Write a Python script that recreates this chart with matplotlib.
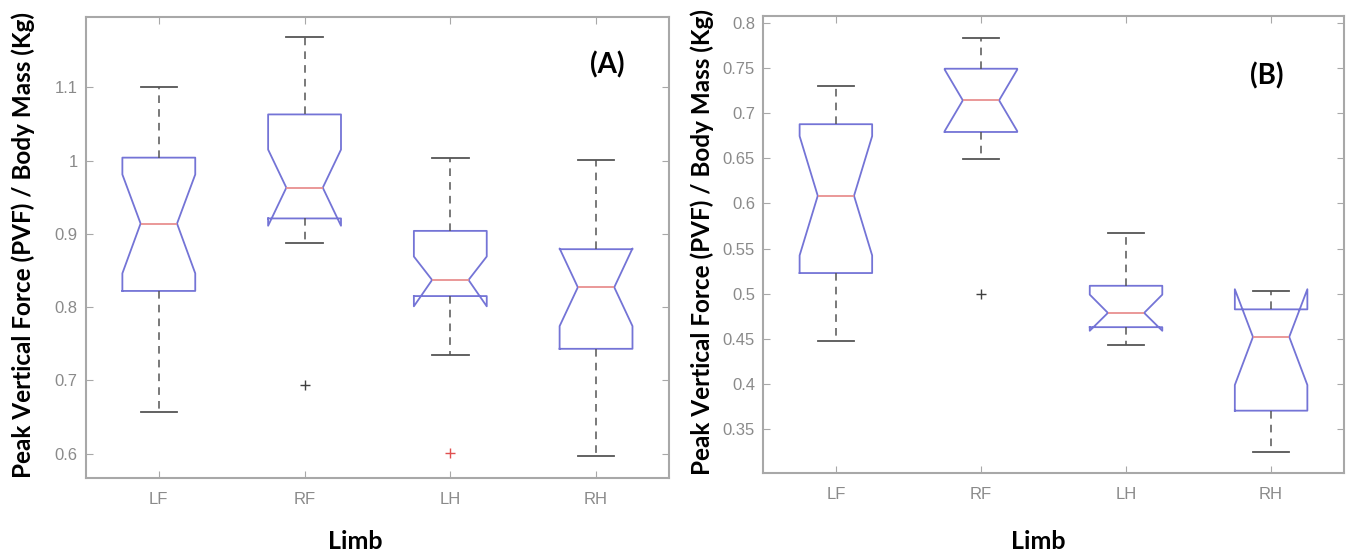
import matplotlib
matplotlib.use('Agg')
import matplotlib.pyplot as plt

# Limb categories
limbs = ['LF', 'RF', 'LH', 'RH']

# Panel (A) box statistics
a_whislo = [0.657, 0.888, 0.734, 0.597]
a_q1 = [0.822, 0.921, 0.815, 0.743]
a_med = [0.914, 0.963, 0.837, 0.827]
a_q3 = [1.004, 1.063, 0.904, 0.879]
a_whishi = [1.100, 1.169, 1.004, 1.001]
a_cilo = [0.846, 0.911, 0.801, 0.774]
a_cihi = [0.981, 1.015, 0.869, 0.880]
a_fliers = [[], [0.694], [0.601], []]

# Panel (B) box statistics
b_whislo = [0.4476, 0.649, 0.4436, 0.3246]
b_q1 = [0.5229, 0.679, 0.4630, 0.3706]
b_med = [0.6084, 0.714, 0.4788, 0.4522]
b_q3 = [0.6876, 0.749, 0.5088, 0.4827]
b_whishi = [0.7297, 0.783, 0.5674, 0.503]
b_cilo = [0.5424, 0.680, 0.4590, 0.399]
b_cihi = [0.6744, 0.748, 0.4990, 0.505]
b_fliers = [[], [0.500], [], []]

a_yticks = [0.6, 0.7, 0.8, 0.9, 1.0, 1.1]
a_yticklabels = ['0.6', '0.7', '0.8', '0.9', '1', '1.1']
b_yticks = [0.35, 0.4, 0.45, 0.5, 0.55, 0.6, 0.65, 0.7, 0.75, 0.8]
b_yticklabels = ['0.35', '0.4', '0.45', '0.5', '0.55', '0.6', '0.65', '0.7', '0.75', '0.8']

BOX_COLOR = '#7474d6'
MED_COLOR = '#e89090'
WHISK_COLOR = '#555555'
AXIS_COLOR = '#a8a8a8'
TICK_TEXT = '#8a8a8a'
LABEL_FONT = ['Lato', 'DejaVu Sans']
TICK_FONT = ['Liberation Sans', 'DejaVu Sans']


def make_stats(whislo, q1, med, q3, whishi, cilo, cihi, fliers):
    stats = []
    for i in range(len(med)):
        stats.append({
            'whislo': whislo[i], 'q1': q1[i], 'med': med[i], 'q3': q3[i],
            'whishi': whishi[i], 'cilo': cilo[i], 'cihi': cihi[i],
            'fliers': fliers[i],
        })
    return stats


def draw_panel(ax, stats, flier_colors, ylim, yticks, yticklabels, tag, tag_xy):
    parts = ax.bxp(
        stats, positions=[1, 2, 3, 4], widths=0.5, shownotches=True,
        boxprops=dict(color=BOX_COLOR, linewidth=1.3),
        medianprops=dict(color=MED_COLOR, linewidth=1.3),
        whiskerprops=dict(color=WHISK_COLOR, linestyle=(0, (5, 4)), linewidth=1.1),
        capprops=dict(color=WHISK_COLOR, linewidth=1.3),
        flierprops=dict(marker='+', markersize=7, markeredgewidth=1.0),
    )
    for line, c in zip(parts['fliers'], flier_colors):
        line.set_markeredgecolor(c)

    ax.set_xlim(0.5, 4.5)
    ax.set_ylim(*ylim)
    ax.set_xticks([1, 2, 3, 4])
    ax.set_xticklabels(limbs, family=TICK_FONT, fontsize=12, color=TICK_TEXT)
    ax.set_yticks(yticks)
    ax.set_yticklabels(yticklabels, family=TICK_FONT, fontsize=12, color=TICK_TEXT)
    ax.tick_params(direction='in', length=5, color=AXIS_COLOR, top=True, right=True)
    ax.tick_params(axis='x', pad=10)
    ax.tick_params(axis='y', pad=6)
    for sp in ax.spines.values():
        sp.set_color(AXIS_COLOR)
        sp.set_linewidth(1.5)

    ax.set_ylabel('Peak Vertical Force (PVF) / Body Mass (Kg)', family=LABEL_FONT,
                  fontweight='bold', fontsize=17.5, va='center')
    ax.set_xlabel('Limb', family=LABEL_FONT, fontweight='bold', fontsize=18)
    ax.text(tag_xy[0], tag_xy[1], tag, transform=ax.transAxes, family=LABEL_FONT,
            fontweight='bold', fontsize=20, ha='center', va='center')


fig = plt.figure(figsize=(13.47, 5.54), dpi=100)
ax_a = fig.add_axes([0.0638, 0.1377, 0.4328, 0.8316])
ax_b = fig.add_axes([0.5667, 0.1457, 0.4308, 0.8260])

draw_panel(ax_a, make_stats(a_whislo, a_q1, a_med, a_q3, a_whishi, a_cilo, a_cihi, a_fliers),
           ['k', '#404040', '#e05050', 'k'], (0.567, 1.196), a_yticks, a_yticklabels,
           '(A)', (0.894, 0.897))
draw_panel(ax_b, make_stats(b_whislo, b_q1, b_med, b_q3, b_whishi, b_cilo, b_cihi, b_fliers),
           ['k', '#404040', 'k', 'k'], (0.3013, 0.8077), b_yticks, b_yticklabels,
           '(B)', (0.868, 0.868))

# label placement (axes coords)
ax_a.yaxis.set_label_coords(-0.107, 0.505)
ax_a.xaxis.set_label_coords(0.462, -0.113)
ax_b.yaxis.set_label_coords(-0.1057, 0.505)
ax_b.xaxis.set_label_coords(0.4736, -0.124)

fig.savefig('out.png', dpi=100)
